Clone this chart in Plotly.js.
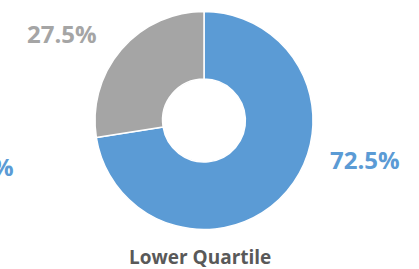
<!DOCTYPE html>
<html>
<head>
<meta charset="utf-8">
<script src="https://cdn.plot.ly/plotly-3.0.1.min.js"></script>
<style>html,body{margin:0;padding:0;background:#fff;}#chart{width:419px;height:269px;}</style>
</head>
<body>
<div id="chart"></div>
<script>
const categories = ["Share A", "Share B"];
const values = [72.5, 27.5];
const colors = ["#5B9BD5", "#A5A5A5"];
const chartTitle = "Lower Quartile";
const neighbourLabel = "%";

const W = 419, H = 269;
const px = x => x / W, py = y => 1 - y / H;
const font = "'Open Sans', 'DejaVu Sans', sans-serif";

const trace = {
  type: "pie",
  labels: categories,
  values: values,
  hole: 0.38,
  sort: false,
  direction: "clockwise",
  rotation: 0,
  textinfo: "none",
  hoverinfo: "none",
  marker: {colors: colors, line: {color: "#FFFFFF", width: 1.5}},
  domain: {x: [px(95), px(313)], y: [py(230), py(11)]},
  showlegend: false
};

const labelPos = [[365, 159], [62, 34]];
const annotations = values.map((v, i) => ({
  xref: "paper", yref: "paper",
  x: px(labelPos[i][0]), y: py(labelPos[i][1]),
  xanchor: "center", yanchor: "middle",
  text: "<b>" + v.toFixed(1) + "%</b>",
  showarrow: false,
  font: {family: font, size: 24, color: colors[i]}
}));
annotations.push({
  xref: "paper", yref: "paper",
  x: px(200), y: py(257),
  xanchor: "center", yanchor: "middle",
  text: "<b>" + chartTitle + "</b>",
  showarrow: false,
  borderpad: 0,
  font: {family: font, size: 19, color: "#595959"}
});
annotations.push({
  xref: "paper", yref: "paper",
  x: px(16), y: py(166),
  xanchor: "right", yanchor: "middle",
  text: "<b>" + neighbourLabel + "</b>",
  showarrow: false,
  font: {family: font, size: 24, color: colors[0]}
});

const layout = {
  width: W, height: H,
  margin: {l: 0, r: 0, t: 0, b: 0},
  paper_bgcolor: "#FFFFFF",
  plot_bgcolor: "#FFFFFF",
  annotations: annotations
};

Plotly.newPlot("chart", [trace], layout, {displayModeBar: false, staticPlot: true});
</script>
</body>
</html>
